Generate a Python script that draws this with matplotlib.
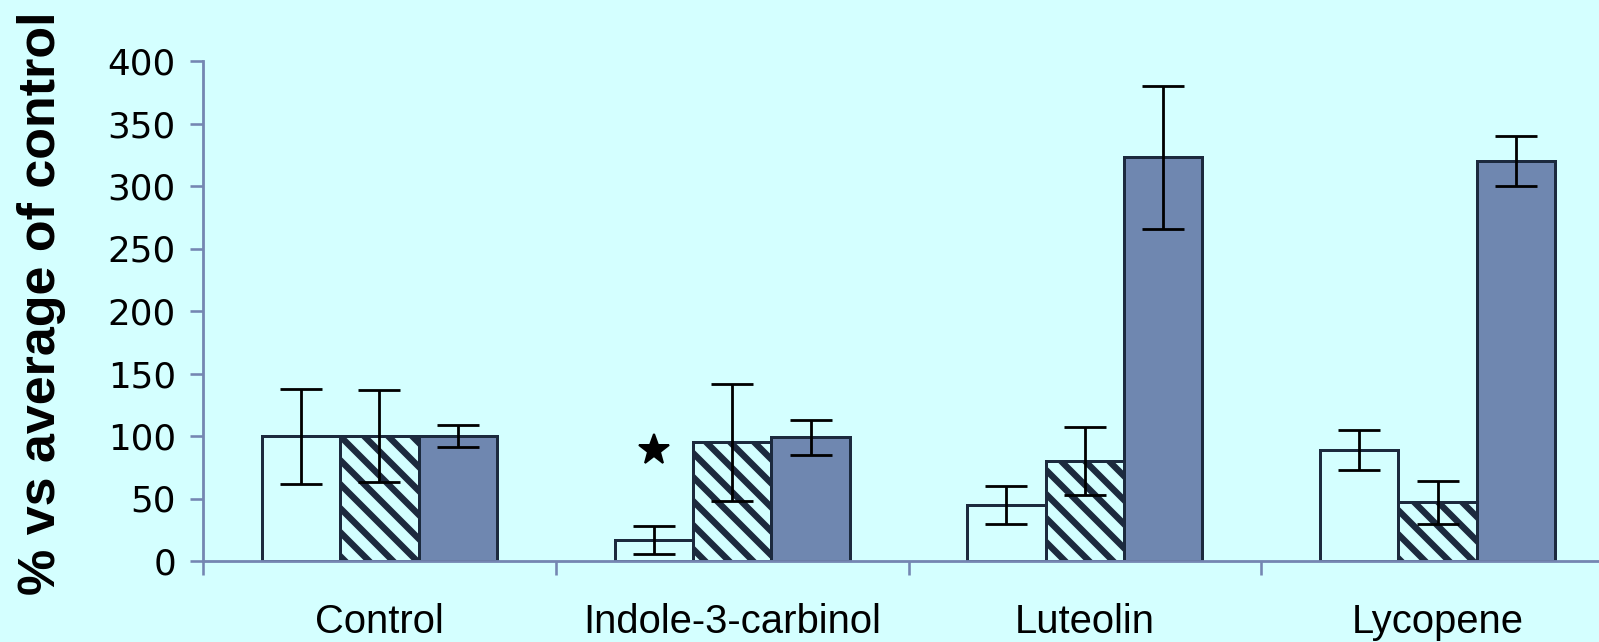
import numpy as np
import matplotlib.pyplot as plt

# Valores (% respecto a la media del control) y errores de cada serie
categorias = ["Control", "Indole-3-carbinol", "Luteolin", "Lycopene"]
serie_blanca = [100, 17, 45, 89]
err_blanca = [38, 11, 15, 16]
serie_rayada = [100, 95, 80, 47]
err_rayada = [37, 47, 27, 17]
serie_azul = [100, 99, 323, 320]
err_azul = [9, 14, 57, 20]

# Asterisco de significancia sobre la barra blanca de Indole-3-carbinol
asterisco_cat = 1
asterisco_y = 89

ticks_y = [0, 50, 100, 150, 200, 250, 300, 350, 400]

fondo = "#d4ffff"
azul = "#6f87b0"
borde = "#1c2a3e"
eje = "#7586b2"

plt.rcParams["hatch.linewidth"] = 3.2
plt.rcParams["hatch.color"] = "black"

dpi = 144
fig = plt.figure(figsize=(1599 / dpi, 642 / dpi), dpi=dpi, facecolor=fondo)
ax = fig.add_axes([203 / 1599, 81 / 642, 1411 / 1599, 500 / 642])
ax.set_facecolor(fondo)

xs = np.arange(len(categorias))
ancho = 1 / 4.5  # tres barras con separacion del 150%
err_kw = dict(ecolor="black", elinewidth=1.4, capsize=10.5, capthick=1.4, zorder=4)

ax.bar(xs - ancho, serie_blanca, ancho, color=fondo, edgecolor=borde,
       linewidth=1.5, yerr=err_blanca, error_kw=err_kw, zorder=2)
ax.bar(xs, serie_rayada, ancho, color=fondo, edgecolor=borde, hatch="\\\\",
       linewidth=1.5, yerr=err_rayada, error_kw=err_kw, zorder=2)
ax.bar(xs + ancho, serie_azul, ancho, color=azul, edgecolor=borde,
       linewidth=1.5, yerr=err_azul, error_kw=err_kw, zorder=2)

ax.plot(asterisco_cat - ancho, asterisco_y, marker="*", markersize=16,
        color="black", zorder=5)

ax.set_xlim(-0.5, len(categorias) - 0.5)
ax.set_ylim(0, 400)
ax.set_yticks(ticks_y)
ax.set_yticklabels([str(t) for t in ticks_y], fontsize=17.8,
                   family="DejaVu Sans")

ax.set_xticks(xs)
ax.set_xticklabels(categorias, fontsize=20, family="Liberation Sans")
ax.set_xticks(np.arange(len(categorias) + 1) - 0.5, minor=True)
ax.tick_params(axis="x", which="major", length=0, pad=21)
ax.tick_params(axis="x", which="minor", length=7, width=1.3, color=eje,
               direction="out")
ax.tick_params(axis="y", length=6.5, width=1.3, color=eje, pad=7,
               direction="out")

for lado in ["top", "right"]:
    ax.spines[lado].set_visible(False)
for lado in ["left", "bottom"]:
    ax.spines[lado].set_color(eje)
    ax.spines[lado].set_linewidth(1.4)

fig.text(42 / 1599, 1 - 303 / 642, "% vs average of control", rotation=90,
         ha="center", va="center", fontsize=26, fontweight="bold",
         family="Liberation Sans")

fig.savefig("out.png", dpi=dpi, facecolor=fondo)
